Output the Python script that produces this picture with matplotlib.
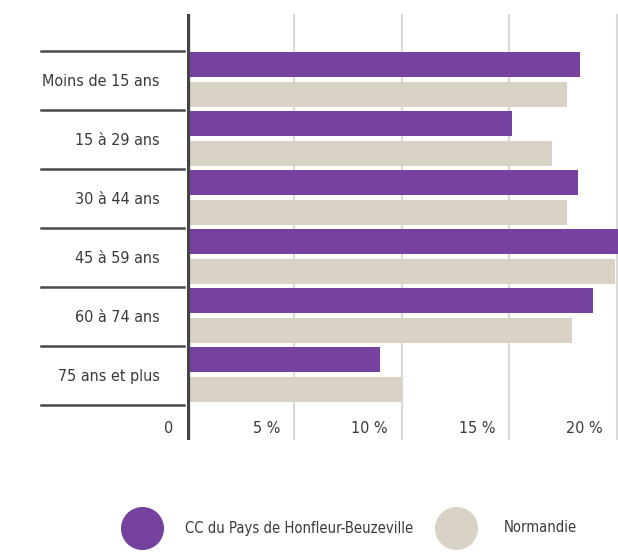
import matplotlib
matplotlib.use("Agg")
import matplotlib.pyplot as plt
import matplotlib.transforms as mtransforms
from matplotlib.lines import Line2D

plt.rcParams['font.family'] = ['DejaVu Sans']
plt.rcParams['font.stretch'] = 'condensed'

# data
categories = ["Moins de 15 ans", "15 à 29 ans", "30 à 44 ans",
              "45 à 59 ans", "60 à 74 ans", "75 ans et plus"]
cc_values = [18.3, 15.1, 18.2, 20.5, 18.9, 9.0]
normandie_values = [17.7, 17.0, 17.7, 19.9, 17.9, 10.0]
series_names = ["CC du Pays de Honfleur-Beuzeville", "Normandie"]
x_ticks = [0, 5, 10, 15, 20]
x_tick_labels = ["0", "5 %", "10 %", "15 %", "20 %"]

purple = "#7542A0"
beige = "#D9D3C6"
text_col = "#3a3a3a"
W, H = 618, 559
fs = 11.5

fig = plt.figure(figsize=(W / 100, H / 100), dpi=100)
ax = fig.add_axes([187 / W, 1 - 440 / H, (W - 187) / W, (440 - 14) / H])

rows = list(range(len(categories)))
bar_h = 0.42
ax.barh([r + 0.24 for r in rows], cc_values, height=bar_h, color=purple, zorder=3)
ax.barh([r + 0.75 for r in rows], normandie_values, height=bar_h, color=beige, zorder=3)

ax.set_xlim(0, 20.05)
ax.set_ylim((440 - 50.5) / 59, (14 - 50.5) / 59)

# grid lines and main axis
for t in x_ticks[1:]:
    ax.axvline(t, color="#d9d9d9", lw=1.6, zorder=1)
ax.axvline(0, color="#444444", lw=4.5, zorder=4)

# separators between groups
blend = mtransforms.blended_transform_factory(ax.transAxes, ax.transData)
for k in range(len(categories) + 1):
    ax.plot([(41 - 187) / (W - 187), -0.008], [k, k], color="#4a4a4a", lw=1.8,
            transform=blend, clip_on=False)

# category labels
ax.set_yticks([r + 0.5 for r in rows])
ax.set_yticklabels(categories, fontsize=fs, color=text_col)
ax.tick_params(axis="y", length=0, pad=19.5)
ax.set_xticks([])

# x tick labels, right-aligned just left of each grid line
offset = mtransforms.ScaledTranslation(-14 / 100, 0, fig.dpi_scale_trans)
for t, lab in zip(x_ticks, x_tick_labels):
    ax.text(t, (428 - 50.5) / 59, lab, ha="right", va="center", fontsize=fs,
            color=text_col, transform=ax.transData + offset)

for s in ax.spines.values():
    s.set_visible(False)

# legend
leg_y = 1 - 528 / H
for cx, tx, col, name in [(142, 185, purple, series_names[0]),
                          (456, 504, beige, series_names[1])]:
    fig.add_artist(Line2D([cx / W], [leg_y], marker="o", ms=30, color=col,
                          ls="", transform=fig.transFigure))
    fig.text(tx / W, leg_y, name, ha="left", va="center", fontsize=10.6,
             color=text_col)

fig.savefig("out.png", dpi=100)
